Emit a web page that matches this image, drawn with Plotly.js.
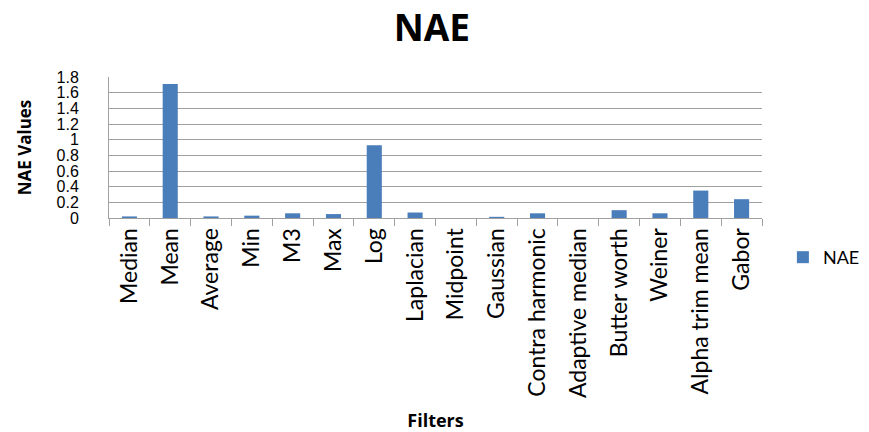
<!DOCTYPE html>
<html>
<head>
<meta charset="utf-8">
<script src="https://cdn.plot.ly/plotly-3.0.1.min.js"></script>
<style>
  html, body { margin: 0; padding: 0; background: #ffffff; }
  #chart { width: 869px; height: 432px; }
</style>
</head>
<body>
<div id="chart"></div>
<script>
// Filter names along the x axis
const filters = [
  "Median", "Mean", "Average", "Min", "M3", "Max", "Log", "Laplacian",
  "Midpoint", "Gaussian", "Contra harmonic", "Adaptive median",
  "Butter worth", "Weiner", "Alpha trim mean", "Gabor"
];

// NAE value for each filter
const naeValues = [
  0.02, 1.71, 0.02, 0.03, 0.06, 0.05, 0.93, 0.07,
  0.0, 0.015, 0.06, 0.0, 0.10, 0.06, 0.35, 0.24
];

// Y axis tick values and labels
const yTicks = [0, 0.2, 0.4, 0.6, 0.8, 1, 1.2, 1.4, 1.6, 1.8];
const yTickText = ["0", "0.2", "0.4", "0.6", "0.8", "1", "1.2", "1.4", "1.6", "1.8"];

const font = "Lato, 'Open Sans', 'Liberation Sans', sans-serif";
const boldFont = "'Open Sans', 'Liberation Sans', sans-serif";

const trace = {
  type: "bar",
  name: "NAE",
  x: filters,
  y: naeValues,
  marker: { color: "#4a7ebb", line: { color: "#4a7ebb", width: 0 } },
  hoverinfo: "x+y"
};

const layout = {
  width: 869,
  height: 432,
  paper_bgcolor: "#ffffff",
  plot_bgcolor: "#ffffff",
  margin: { l: 109, r: 107, t: 77, b: 214, autoexpand: false },
  bargap: 0.63,
  title: {
    text: "<b>NAE</b>",
    font: { family: boldFont, size: 37, color: "#000000" },
    x: 0.497,
    xanchor: "center",
    y: 0.935,
    yanchor: "middle"
  },
  xaxis: {
    type: "category",
    tickangle: -90,
    tickfont: { family: font, size: 23, color: "#000000" },
    ticks: "outside",
    tickson: "boundaries",
    ticklen: 7,
    tickcolor: "#a0a0a0",
    showline: true,
    linecolor: "#a0a0a0",
    linewidth: 1,
    showgrid: false,
    automargin: false,
    title: {
      text: "<b>Filters</b>",
      font: { family: boldFont, size: 18, color: "#000000" },
      standoff: 22
    }
  },
  yaxis: {
    range: [0, 1.8],
    tickvals: yTicks,
    ticktext: yTickText,
    tickfont: { family: "'Liberation Sans', Arial, sans-serif", size: 16, color: "#000000" },
    ticks: "",
    ticklabelstandoff: 26,
    showline: true,
    linecolor: "#a0a0a0",
    linewidth: 1,
    showgrid: true,
    gridcolor: "#a0a0a0",
    gridwidth: 1,
    zeroline: false,
    automargin: false,
    title: {
      text: "<b>NAE Values</b>",
      font: { family: boldFont, size: 17, color: "#000000" },
      standoff: 20
    }
  },
  showlegend: true,
  legend: {
    x: 1.032,
    xanchor: "left",
    y: -0.28,
    yanchor: "middle",
    font: { family: font, size: 18, color: "#000000" },
    bgcolor: "rgba(0,0,0,0)"
  }
};

Plotly.newPlot("chart", [trace], layout, { displayModeBar: false, staticPlot: true });
</script>
</body>
</html>
